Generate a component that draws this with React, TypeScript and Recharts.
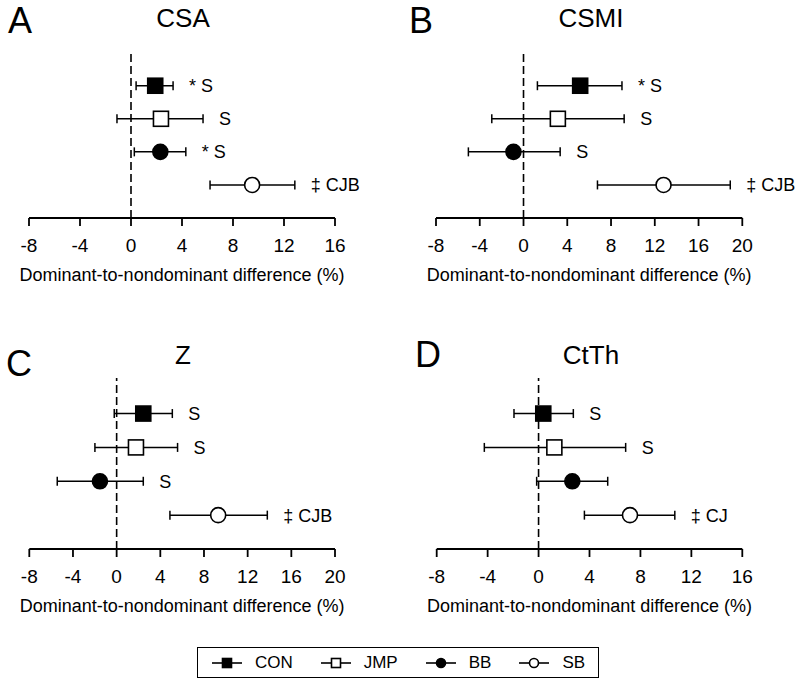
import React from 'react';
import { ScatterChart, Scatter, XAxis, YAxis, ErrorBar, ReferenceLine } from 'recharts';

// ---- data ----
const groups = ['CON', 'JMP', 'BB', 'SB'];
const rows = [4, 3, 2, 1];

const csaMean = [1.9, 2.35, 2.3, 9.5];
const csaLow = [0.4, -1.1, 0.26, 6.2];
const csaHigh = [3.3, 5.65, 4.3, 12.85];
const csaNotes = ['* S', 'S', '* S', '‡ CJB'];

const csmiMean = [5.18, 3.14, -0.92, 12.8];
const csmiLow = [1.27, -2.9, -5.04, 6.76];
const csmiHigh = [9.0, 9.2, 3.35, 18.9];
const csmiNotes = ['* S', 'S', 'S', '‡ CJB'];

const zMean = [2.44, 1.77, -1.53, 9.3];
const zLow = [-0.22, -1.99, -5.44, 4.88];
const zHigh = [5.1, 5.58, 2.44, 13.8];
const zNotes = ['S', 'S', 'S', '‡ CJB'];

const ctthMean = [0.37, 1.24, 2.65, 7.18];
const ctthLow = [-1.93, -4.26, -0.15, 3.6];
const ctthHigh = [2.73, 6.84, 5.43, 10.7];
const ctthNotes = ['S', 'S', '', '‡ CJ'];

const ticks16 = [-8, -4, 0, 4, 8, 12, 16];
const ticks20 = [-8, -4, 0, 4, 8, 12, 16, 20];

const FONT = '"Liberation Sans", Arial, Helvetica, sans-serif';

type Marker = 'fsq' | 'osq' | 'fci' | 'oci';
const markers: Marker[] = ['fsq', 'osq', 'fci', 'oci'];

function drawMarker(kind: Marker, cx: number, cy: number, s: number) {
  const fill = kind === 'fsq' || kind === 'fci' ? '#000' : '#fff';
  if (kind === 'fsq' || kind === 'osq') {
    return <rect x={cx - s / 2} y={cy - s / 2} width={s} height={s} fill={fill} stroke="#000" strokeWidth={1.6} />;
  }
  return <circle cx={cx} cy={cy} r={s / 2} fill={fill} stroke="#000" strokeWidth={1.6} />;
}

type Panel = {
  letter: string;
  title: string;
  mean: number[];
  low: number[];
  high: number[];
  notes: string[];
  ticks: number[];
  left: number;
  top: number;
  margin: { top: number; right: number; bottom: number; left: number };
};

const panels: Panel[] = [
  { letter: 'A', title: 'CSA', mean: csaMean, low: csaLow, high: csaHigh, notes: csaNotes, ticks: ticks16, left: 0, top: 0, margin: { top: 51, right: 65, bottom: 22, left: 29 } },
  { letter: 'B', title: 'CSMI', mean: csmiMean, low: csmiLow, high: csmiHigh, notes: csmiNotes, ticks: ticks20, left: 400, top: 0, margin: { top: 51, right: 57.7, bottom: 22, left: 36 } },
  { letter: 'C', title: 'Z', mean: zMean, low: zLow, high: zHigh, notes: zNotes, ticks: ticks20, left: 0, top: 331, margin: { top: 47, right: 65, bottom: 22, left: 29.3 } },
  { letter: 'D', title: 'CtTh', mean: ctthMean, low: ctthLow, high: ctthHigh, notes: ctthNotes, ticks: ticks16, left: 400, top: 331, margin: { top: 47, right: 57.7, bottom: 22, left: 36.7 } },
];

// overlay text positions (panel letters + titles)
const headings = [
  { text: 'A', x: 20, y: 20, size: 36 },
  { text: 'CSA', x: 183, y: 18, size: 26 },
  { text: 'B', x: 421, y: 20, size: 36 },
  { text: 'CSMI', x: 591, y: 18, size: 26 },
  { text: 'C', x: 19, y: 363, size: 36 },
  { text: 'Z', x: 183, y: 355, size: 26 },
  { text: 'D', x: 428, y: 354, size: 36 },
  { text: 'CtTh', x: 591, y: 355, size: 26 },
];

function TickLabel(props: any) {
  const { x, y, payload } = props;
  return (
    <text x={x} y={y + 19} dy="0.36em" textAnchor="middle" fontSize={19} fill="#000" fontFamily={FONT}>
      {payload.value}
    </text>
  );
}

function PanelChart({ p }: { p: Panel }) {
  const domainMax = p.ticks[p.ticks.length - 1];
  const series = groups.map((g, i) => ({
    name: g,
    marker: markers[i],
    data: [{ x: p.mean[i], y: rows[i], err: [p.mean[i] - p.low[i], p.high[i] - p.mean[i]] }],
  }));
  const notes = groups
    .map((g, i) => ({ x: p.high[i], y: rows[i], note: p.notes[i] }))
    .filter((d) => d.note !== '');
  return (
    <div style={{ position: 'absolute', left: p.left, top: p.top }}>
      <ScatterChart width={400} height={300} margin={p.margin} style={{ overflow: 'visible' }}>
        <XAxis
          type="number"
          dataKey="x"
          domain={[-8, domainMax]}
          ticks={p.ticks}
          height={60}
          axisLine={{ stroke: '#000', strokeWidth: 1.8 }}
          tickLine={{ stroke: '#000', strokeWidth: 1.8 }}
          tickSize={8}
          tickMargin={0}
          tick={<TickLabel />}
          label={{ value: 'Dominant-to-nondominant difference (%)', position: 'insideBottom', offset: -3, fill: '#000', fontSize: 18 }}
        />
        <YAxis type="number" dataKey="y" domain={[0, 5.05]} hide />
        <ReferenceLine x={0} stroke="#000" strokeWidth={1.6} strokeDasharray="8 4" />
        {series.map((s) => (
          <Scatter
            key={s.name}
            name={s.name}
            data={s.data}
            isAnimationActive={false}
            shape={(props: any) => drawMarker(s.marker, props.cx, props.cy, 15)}
          >
            <ErrorBar dataKey="err" direction="x" width={4.5} strokeWidth={1.5} stroke="#000" />
          </Scatter>
        ))}
        <Scatter
          name="notes"
          data={notes}
          isAnimationActive={false}
          shape={(props: any) => (
            <text x={props.cx + 16} y={props.cy} dy="0.36em" fontSize={18} fill="#000" fontFamily={FONT}>
              {props.payload.note}
            </text>
          )}
        />
      </ScatterChart>
    </div>
  );
}

function LegendBox() {
  return (
    <div
      style={{
        position: 'absolute',
        left: 197,
        top: 647,
        width: 402,
        height: 31,
        boxSizing: 'border-box',
        border: '1.6px solid #000',
        display: 'flex',
        alignItems: 'center',
        justifyContent: 'center',
        gap: 27,
        fontSize: 17,
        fontFamily: FONT,
        color: '#000',
      }}
    >
      {groups.map((g, i) => (
        <div key={g} style={{ display: 'flex', alignItems: 'center' }}>
          <svg width={32} height={14} style={{ display: 'block' }}>
            <line x1={1} y1={7} x2={31} y2={7} stroke="#000" strokeWidth={1.6} />
            {drawMarker(markers[i], 16, 7, 9)}
          </svg>
          <span style={{ marginLeft: 12, lineHeight: '17px' }}>{g}</span>
        </div>
      ))}
    </div>
  );
}

export default function App() {
  return (
    <div style={{ position: 'absolute', left: 0, top: 0, width: 800, height: 685, background: '#fff', fontFamily: FONT, overflow: 'hidden' }}>
      {panels.map((p) => (
        <PanelChart key={p.letter} p={p} />
      ))}
      <svg width={800} height={685} style={{ position: 'absolute', left: 0, top: 0, pointerEvents: 'none' }}>
        {headings.map((h) => (
          <text key={h.text} x={h.x} y={h.y} dy="0.36em" textAnchor="middle" fontSize={h.size} fill="#000" fontFamily={FONT}>
            {h.text}
          </text>
        ))}
      </svg>
      <LegendBox />
    </div>
  );
}
